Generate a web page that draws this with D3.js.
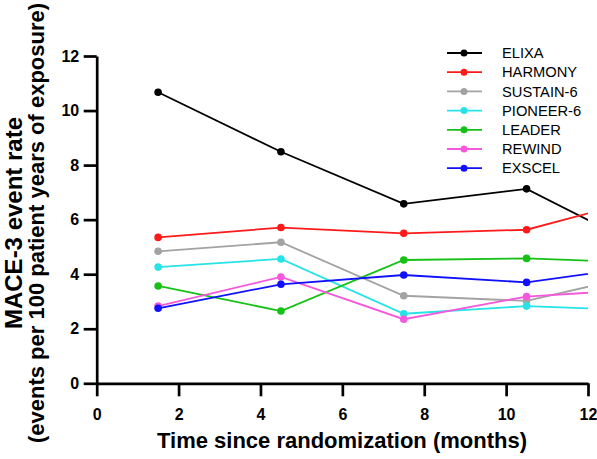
<!DOCTYPE html>
<html><head><meta charset="utf-8">
<script src="https://cdn.jsdelivr.net/npm/d3@7/dist/d3.min.js"></script>
<style>
html,body{margin:0;padding:0;background:#fff;}
svg{display:block;font-family:"Liberation Sans",Arial,sans-serif;}
</style></head>
<body>
<svg id="chart" width="597" height="459"></svg>
<script>
const months = [1.5, 4.5, 7.5, 10.5, 13.5];
const seriesNames = ["ELIXA","HARMONY","SUSTAIN-6","PIONEER-6","LEADER","REWIND","EXSCEL"];
const seriesColors = ["#000000","#ff1a1a","#a3a3a3","#26e3e8","#16c116","#f558dc","#1010ff"];
const elixa    = [10.67, 8.49, 6.58, 7.13, 4.85];
const harmony  = [5.35, 5.71, 5.50, 5.63, 6.83];
const sustain6 = [4.84, 5.17, 3.21, 3.02, 4.06];
const pioneer6 = [4.26, 4.56, 2.55, 2.83, 2.67];
const leader   = [3.57, 2.65, 4.52, 4.58, 4.42];
const rewind   = [2.83, 3.90, 2.35, 3.18, 3.46];
const exscel   = [2.75, 3.63, 3.97, 3.70, 4.32];
const seriesValues = [elixa, harmony, sustain6, pioneer6, leader, rewind, exscel];
const xTicks = [0,2,4,6,8,10,12];
const yTicks = [0,2,4,6,8,10,12];

const svg = d3.select("#chart");
const x = d3.scaleLinear().domain([0,12]).range([96.7,588]);
const y = d3.scaleLinear().domain([0,12]).range([383.3,56]);

svg.append("defs").append("clipPath").attr("id","plotclip")
  .append("rect").attr("x",x(0)).attr("y",0).attr("width",x(12)-x(0)).attr("height",459);

// axes
const yAxis = svg.append("g").attr("transform",`translate(${x(0)},0)`)
  .call(d3.axisLeft(y).tickValues(yTicks).tickSize(13).tickSizeOuter(0).tickPadding(4.5).tickFormat(d3.format("d")));
const xAxis = svg.append("g").attr("transform",`translate(0,${y(0)})`)
  .call(d3.axisBottom(x).tickValues(xTicks).tickSize(13).tickSizeOuter(0).tickPadding(12).tickFormat(d3.format("d")));
[yAxis,xAxis].forEach(g=>{
  g.selectAll("path.domain").attr("stroke","#000").attr("stroke-width",2.7);
  g.selectAll(".tick line").attr("stroke","#000").attr("stroke-width",2.7);
  g.selectAll(".tick text").attr("fill","#000").attr("font-size",16).attr("font-weight","bold")
    .attr("font-family","'Liberation Sans',Arial,sans-serif");
});

// series
const line = d3.line().x((d,i)=>x(months[i])).y(d=>y(d));
const plot = svg.append("g").attr("clip-path","url(#plotclip)");
seriesValues.forEach((vals,si)=>{
  const g = plot.append("g");
  g.append("path").datum(vals).attr("d",line).attr("fill","none")
    .attr("stroke",seriesColors[si]).attr("stroke-width",1.8);
  g.selectAll("circle").data(vals).join("circle")
    .attr("cx",(d,i)=>x(months[i])).attr("cy",d=>y(d)).attr("r",3.8)
    .attr("fill",seriesColors[si]);
});

// legend
const leg = svg.append("g");
seriesNames.forEach((n,i)=>{
  const yy = 53 + i*19.2;
  leg.append("line").attr("x1",447).attr("x2",482).attr("y1",yy).attr("y2",yy)
    .attr("stroke",seriesColors[i]).attr("stroke-width",1.8);
  leg.append("circle").attr("cx",464).attr("cy",yy).attr("r",3.5).attr("fill",seriesColors[i]);
  leg.append("text").attr("x",502).attr("y",yy).attr("dy","0.36em")
    .attr("font-size",14.7).attr("fill","#000").text(n);
});

// titles
svg.append("text").attr("x",342).attr("y",448).attr("text-anchor","middle")
  .attr("font-size",22).attr("font-weight","bold").attr("fill","#000")
  .text("Time since randomization (months)");
const yt = svg.append("text").attr("transform","translate(22,223) rotate(-90)")
  .attr("text-anchor","middle").attr("font-weight","bold").attr("fill","#000");
yt.append("tspan").attr("x",0).attr("y",0).attr("font-size",24).text("MACE-3 event rate");
yt.append("tspan").attr("x",0).attr("y",22).attr("font-size",22).text("(events per 100 patient years of exposure)");
</script>
</body></html>
